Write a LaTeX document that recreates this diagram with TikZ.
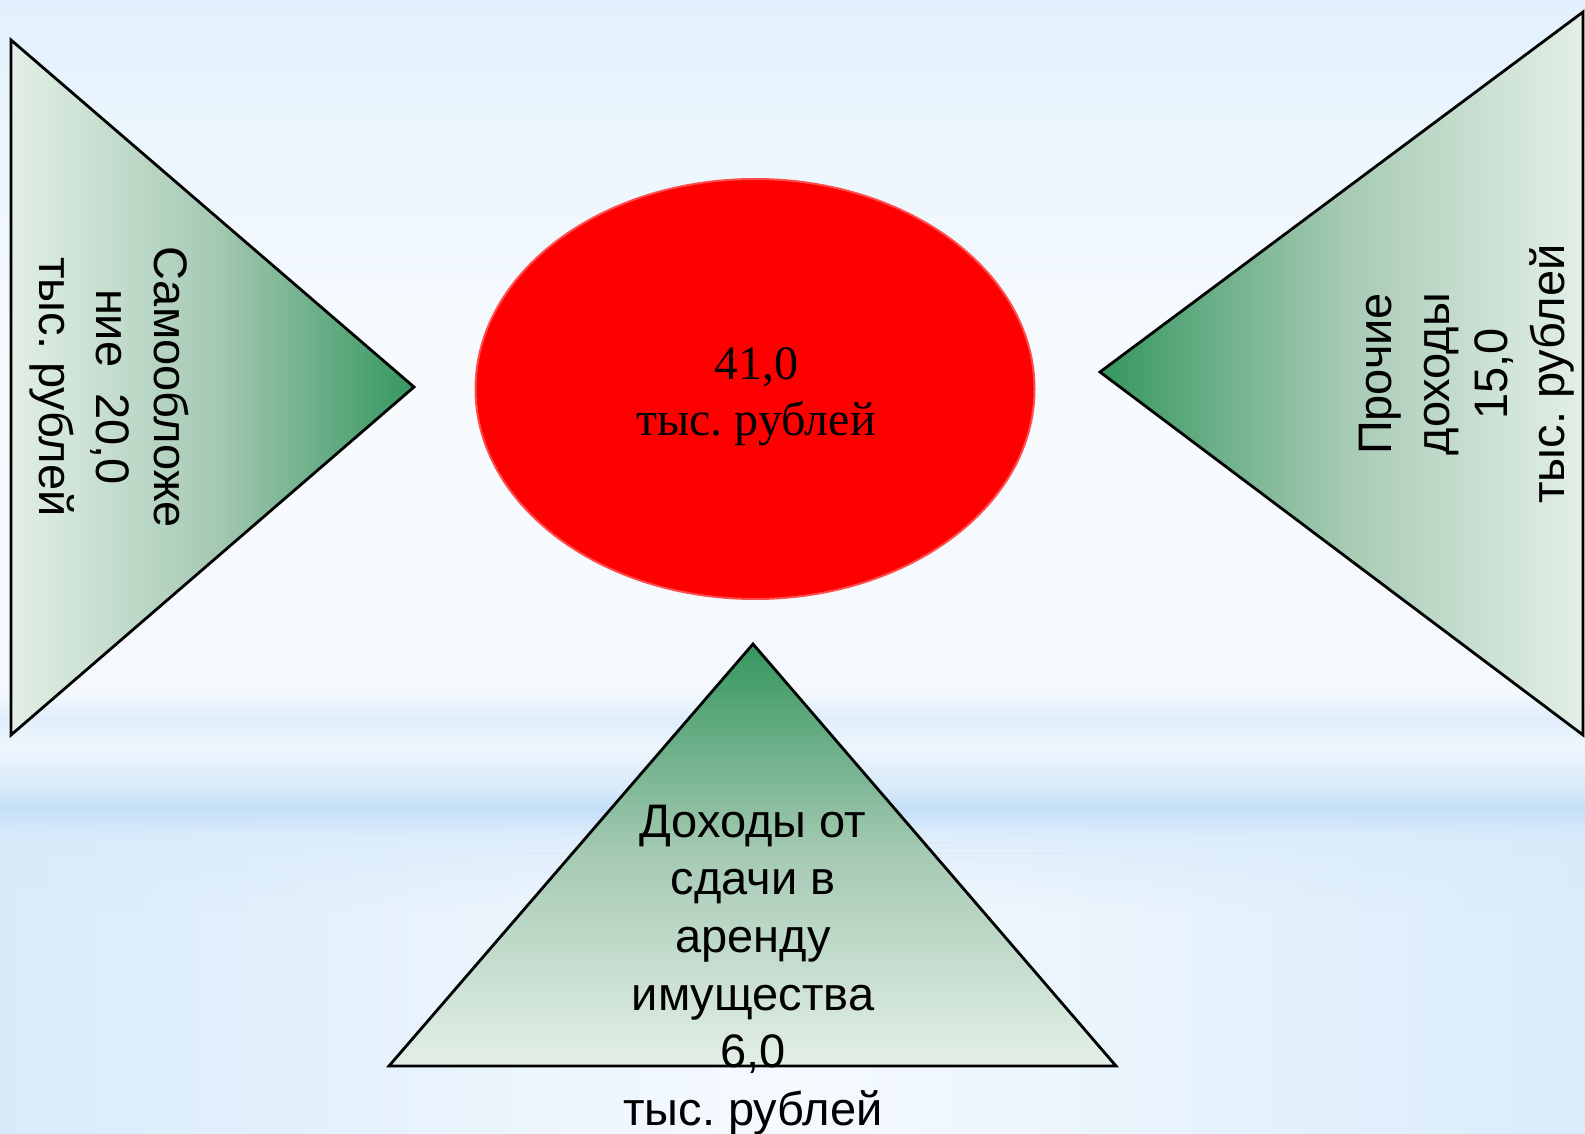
\documentclass[tikz,border=0pt]{standalone}
\usepackage{fontspec}
\setmainfont{Liberation Serif}
\setsansfont{Liberation Sans}
\frenchspacing
\usetikzlibrary{shapes.geometric}
\definecolor{gdark}{HTML}{35965F}
\definecolor{gmid}{HTML}{A6CAB4}
\definecolor{glight}{HTML}{E3EFE7}
\definecolor{bgA}{HTML}{E2F1FD}
\definecolor{bgB}{HTML}{ECF6FD}
\definecolor{bgC}{HTML}{F8FBFE}
\definecolor{bgD}{HTML}{F5F9FE}
\definecolor{bgE}{HTML}{E0EEFB}
\definecolor{bgF}{HTML}{EEF6FD}
\definecolor{bgG}{HTML}{D6E9FA}
\definecolor{bgH}{HTML}{C4E0F8}
\definecolor{bgI}{HTML}{D8EAFA}
\definecolor{bgJ}{HTML}{E0EEFB}
\definecolor{bhA}{HTML}{BCDCF7}
\definecolor{bhB}{HTML}{D2E7F9}
\definecolor{bhC}{HTML}{F5FAFF}
\pgfdeclarehorizontalshading{bgh}{100bp}{color(0bp)=(bhA); color(19bp)=(bhB); color(50bp)=(bhC); color(82bp)=(bhB); color(100bp)=(bhA)}
\tikzset{
  tri/.style={draw=black, line width=1.4pt, line join=miter},
  sftext/.style={font=\sffamily\fontsize{23.5}{28.8}\selectfont, align=center, inner sep=0pt, text=black},
}
\begin{document}
\begin{tikzpicture}[x=0.5pt,y=-0.5pt]
\useasboundingbox (0,0) rectangle (1585,1134);
% background, vertical profile
\shade[top color=bgA, bottom color=bgB] (0,0) rectangle (1585,151);
\shade[top color=bgB, bottom color=bgC] (0,150) rectangle (1585,381);
\shade[top color=bgC, bottom color=bgD] (0,380) rectangle (1585,691);
\shade[top color=bgD, bottom color=bgE] (0,690) rectangle (1585,719);
\shade[top color=bgE, bottom color=bgF] (0,718) rectangle (1585,746);
\shade[top color=bgF, bottom color=bgG] (0,745) rectangle (1585,791);
\shade[top color=bgG, bottom color=bgH] (0,790) rectangle (1585,809);
\shade[top color=bgH, bottom color=bgI] (0,808) rectangle (1585,836);
\shade[top color=bgI, bottom color=bgJ] (0,835) rectangle (1585,1134);
% background, lower horizontal tint fading in
\foreach \i in {0,...,19}{
  \shade[shading=bgh, opacity={(\i+1)/20}] (0,{815+\i*5}) rectangle (1585,{820+\i*5});
}
\shade[shading=bgh] (0,915) rectangle (1585,1134);
% left triangle
\coordinate (L1) at (11,40);
\coordinate (L2) at (11,735);
\coordinate (L3) at (414,387);
\path[tri, left color=glight, right color=gdark, middle color=gmid] (L1) -- (L3) -- (L2) -- cycle;
% right triangle
\coordinate (R1) at (1583,12);
\coordinate (R2) at (1583,735);
\coordinate (R3) at (1100,372);
\path[tri, left color=gdark, right color=glight, middle color=gmid] (R1) -- (R3) -- (R2) -- cycle;
% bottom triangle
\coordinate (B1) at (753,644);
\coordinate (B2) at (389,1066);
\coordinate (B3) at (1116,1066);
\path[tri, top color=gdark, bottom color=glight, middle color=gmid] (B1) -- (B3) -- (B2) -- cycle;
% central ellipse
\node[ellipse, fill=red, draw=red!70!white, line width=1pt, minimum width=279.5pt, minimum height=210pt, inner sep=0pt] (total) at (755,389) {};
\node[font=\rmfamily\fontsize{24}{27.8}\selectfont, align=center, inner sep=0pt] (totaltext) at (756,397) {41,0\\тыс. рублей};
% texts
\node[sftext, rotate=-90] (tl) at (109,387) {Самообложе\\ние\ \ 20,0\\тыс. рублей};
\node[sftext, rotate=90] (tr) at (1467,374) {Прочие\\доходы\\15,0\\тыс. рублей};
\node[sftext] (tb) at (753,970) {Доходы от\\сдачи в\\аренду\\имущества\\6,0\\тыс. рублей};
\end{tikzpicture}
\end{document}
